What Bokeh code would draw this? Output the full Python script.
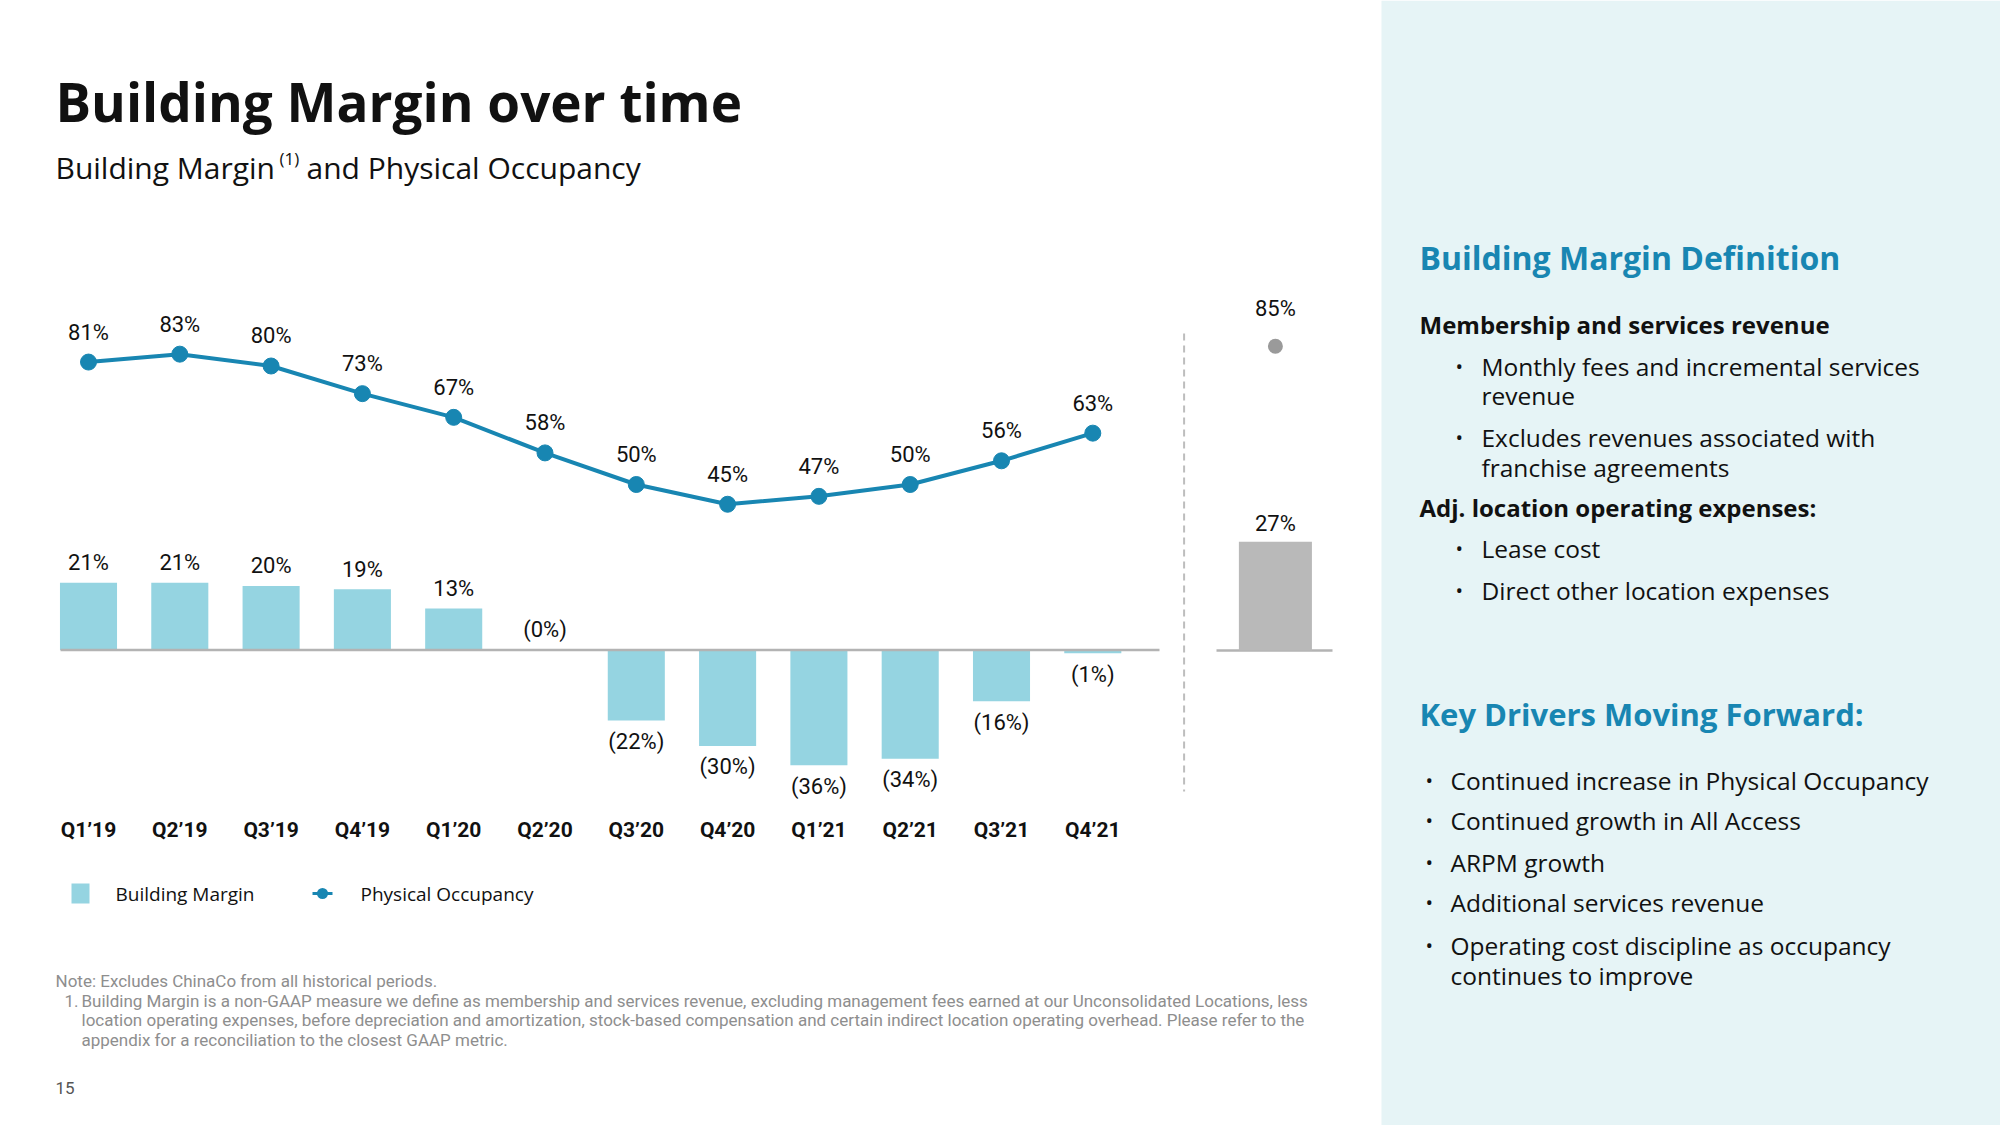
from bokeh.plotting import figure
from bokeh.models import Range1d, ColumnDataSource, Label
from bokeh.embed import file_html
from bokeh.resources import INLINE
from bokeh.core.properties import value

# ---------------- data ----------------
quarters = ["Q1’19", "Q2’19", "Q3’19", "Q4’19", "Q1’20", "Q2’20",
            "Q3’20", "Q4’20", "Q1’21", "Q2’21", "Q3’21", "Q4’21"]
building_margin = [21, 21, 20, 19, 13, 0, -22, -30, -36, -34, -16, -1]
physical_occupancy = [81, 83, 80, 73, 67, 58, 50, 45, 47, 50, 56, 63]
bench_margin = [27]
bench_occupancy = [85]

definition_items = [
    ("head", "Membership and services revenue"),
    ("bullet", "Monthly fees and incremental services"),
    ("cont", "revenue"),
    ("bullet", "Excludes revenues associated with"),
    ("cont", "franchise agreements"),
    ("head", "Adj. location operating expenses:"),
    ("bullet", "Lease cost"),
    ("bullet", "Direct other location expenses"),
]
driver_items = [
    ("bullet", "Continued increase in Physical Occupancy"),
    ("bullet", "Continued growth in All Access"),
    ("bullet", "ARPM growth"),
    ("bullet", "Additional services revenue"),
    ("bullet", "Operating cost discipline as occupancy"),
    ("cont", "continues to improve"),
]
footnotes = [
    "Building Margin is a non-GAAP measure we define as membership and services revenue, excluding management fees earned at our Unconsolidated Locations, less",
    "location operating expenses, before depreciation and amortization, stock-based compensation and certain indirect location operating overhead. Please refer to the",
    "appendix for a reconciliation to the closest GAAP metric.",
]

# ---------------- styles ----------------
TEAL = "#1886b2"
BAR = "#95d4e1"
GREY_BAR = "#b9b9b9"
GREY_DOT = "#9a9a9a"
PANEL = "#e6f4f6"
AXIS_GREY = "#b3b3b3"
NOTE_GREY = "#8e8e8e"
TXT = "#111111"

W, H = 2000, 1125


def lin_range(origin_px, px_per_unit, lo_px, hi_px, flip=False):
    # Range1d placing value 0 at origin_px on the page
    if flip:  # vertical: values grow upward while page y grows downward
        return Range1d(start=(origin_px - hi_px) / px_per_unit, end=(origin_px - lo_px) / px_per_unit)
    return Range1d(start=(lo_px - origin_px) / px_per_unit, end=(hi_px - origin_px) / px_per_unit)


p = figure(width=W, height=H, output_backend="svg", toolbar_location=None,
           x_range=Range1d(0, W), y_range=Range1d(H, 0),
           x_axis_type=None, y_axis_type=None, min_border=0,
           outline_line_color=None, background_fill_color="white",
           border_fill_color="white")

p.extra_x_ranges = {"cx": lin_range(88, 91.3, 0, W)}
p.extra_y_ranges = {
    "bm": lin_range(649.5, 3.2, 0, H, flip=True),
    "occ": lin_range(681.5, 3.95, 0, H, flip=True),
    "bench": lin_range(650, 4.03, 0, H, flip=True),
}

# right panel background
p.quad(left=1381, right=W, top=0, bottom=H, fill_color=PANEL, line_color=None)

n = len(quarters)
idx = list(range(n))

# bars
bm_labels = [f"{v}%" if v > 0 else f"({abs(v)}%)" for v in building_margin]
bm_label_y = [v + 6.3 if v >= 0 else v - 6.5 for v in building_margin]
bsrc = ColumnDataSource(dict(x=idx, top=building_margin, lab=bm_labels, ly=bm_label_y))
p.vbar(x="x", top="top", bottom=0, width=0.625, source=bsrc, fill_color=BAR, line_color=None,
       x_range_name="cx", y_range_name="bm")

# zero lines
p.segment(x0=60, x1=1159, y0=0, y1=0, line_color=AXIS_GREY, line_width=2.5, y_range_name="bm")
p.segment(x0=1216, x1=1332, y0=0, y1=0, line_color=AXIS_GREY, line_width=2.5, y_range_name="bench")

LBL_FONT = value("Roboto")
LBL_SIZE = "22px"
p.text(x="x", y="ly", text="lab", source=bsrc, x_range_name="cx", y_range_name="bm",
       text_font=LBL_FONT, text_font_size=LBL_SIZE, text_color=TXT,
       text_align="center", text_baseline="middle")

# occupancy line
occ_labels = [f"{v}%" for v in physical_occupancy]
osrc = ColumnDataSource(dict(x=idx, y=physical_occupancy, lab=occ_labels,
                             ly=[v + 7.6 for v in physical_occupancy]))
p.line(x="x", y="y", source=osrc, line_color=TEAL, line_width=4, x_range_name="cx", y_range_name="occ")
p.scatter(x="x", y="y", source=osrc, size=16, fill_color=TEAL, line_color=TEAL,
          x_range_name="cx", y_range_name="occ")
p.text(x="x", y="ly", text="lab", source=osrc, x_range_name="cx", y_range_name="occ",
       text_font=LBL_FONT, text_font_size=LBL_SIZE, text_color=TXT,
       text_align="center", text_baseline="middle")

# divider between history and benchmark
p.segment(x0=n, x1=n, y0=333, y1=791, line_color="#bdbdbd", line_width=2, line_dash="7 5",
          x_range_name="cx")

# benchmark bar and occupancy dot
bx = [n + 1]
gsrc = ColumnDataSource(dict(x=bx, top=bench_margin, lab=[f"{v}%" for v in bench_margin],
                             ly=[v + 4.6 for v in bench_margin]))
p.vbar(x="x", top="top", bottom=0, width=0.8, source=gsrc, fill_color=GREY_BAR, line_color=None,
       x_range_name="cx", y_range_name="bench")
p.text(x="x", y="ly", text="lab", source=gsrc, x_range_name="cx", y_range_name="bench",
       text_font=LBL_FONT, text_font_size=LBL_SIZE, text_color=TXT,
       text_align="center", text_baseline="middle")
dsrc = ColumnDataSource(dict(x=bx, y=bench_occupancy, lab=[f"{v}%" for v in bench_occupancy],
                             ly=[v + 9.5 for v in bench_occupancy]))
p.scatter(x="x", y="y", source=dsrc, size=15, fill_color=GREY_DOT, line_color=None,
          x_range_name="cx", y_range_name="occ")
p.text(x="x", y="ly", text="lab", source=dsrc, x_range_name="cx", y_range_name="occ",
       text_font=LBL_FONT, text_font_size=LBL_SIZE, text_color=TXT,
       text_align="center", text_baseline="middle")

# category labels
csrc = ColumnDataSource(dict(x=idx, lab=quarters))
p.text(x="x", y=829, text="lab", source=csrc, x_range_name="cx",
       text_font=value("Roboto"), text_font_size="21px", text_font_style="bold",
       text_color=TXT, text_align="center", text_baseline="middle")

# legend
p.rect(x=80, y=893, width=18, height=20, fill_color=BAR, line_color=None)
p.segment(x0=312, x1=332, y0=893, y1=893, line_color=TEAL, line_width=3)
p.scatter(x=322, y=893, size=11, fill_color=TEAL, line_color=None)


def lab(x, y, text, size, color=TXT, font="Open Sans", style="normal", align="left", baseline="middle"):
    p.add_layout(Label(x=x, y=y, text=text, text_font=font, text_font_size=f"{size}px",
                       text_color=color, text_font_style=style, text_align=align,
                       text_baseline=baseline))


lab(115, 893, "Building Margin", 19)
lab(360, 893, "Physical Occupancy", 19)

# titles
lab(55, 101, "Building Margin over time", 53, style="bold")
lab(55, 167, "Building Margin", 30)
lab(279, 158, "(1)", 17)
lab(306, 167, "and Physical Occupancy", 30)

# footnotes
lab(55, 980, "Note: Excludes ChinaCo from all historical periods.", 17, color=NOTE_GREY, font="Roboto")
lab(64, 1000, "1.", 17, color=NOTE_GREY, font="Roboto")
for i, t in enumerate(footnotes):
    lab(81, 1000 + i * 19.5, t, 17, color=NOTE_GREY, font="Roboto")
lab(55, 1087, "15", 17, color="#555555", font="Roboto")

# right panel text
BODY = 24.5
lab(1419, 257, "Building Margin Definition", 32, color=TEAL, style="bold")
ys_def = [324, 366, 395, 437, 467, 507, 548, 590]
for (kind, t), y in zip(definition_items, ys_def):
    if kind == "head":
        lab(1419, y, t, 24, style="bold")
    else:
        if kind == "bullet":
            lab(1455, y, "•", 20)
        lab(1481, y, t, BODY)

lab(1419, 713, "Key Drivers Moving Forward:", 31, color=TEAL, style="bold")
ys_drv = [780, 820, 862, 902, 945, 975]
for (kind, t), y in zip(driver_items, ys_drv):
    if kind == "bullet":
        lab(1425, y, "•", 20)
    lab(1450, y, t, BODY)

open("out.html", "w").write(file_html(p, INLINE))
